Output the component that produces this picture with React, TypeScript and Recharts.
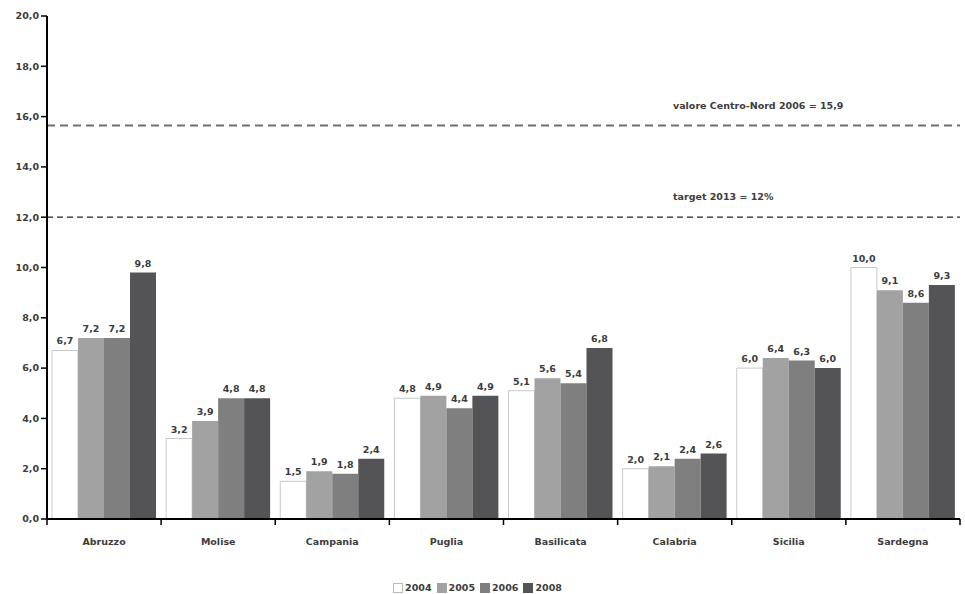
import React from 'react';
import {
  Bar,
  BarChart,
  LabelList,
  Legend,
  ReferenceLine,
  XAxis,
  YAxis,
} from 'recharts';

const regions = ['Abruzzo', 'Molise', 'Campania', 'Puglia', 'Basilicata', 'Calabria', 'Sicilia', 'Sardegna'];
const v2004 = [6.7, 3.2, 1.5, 4.8, 5.1, 2.0, 6.0, 10.0];
const v2005 = [7.2, 3.9, 1.9, 4.9, 5.6, 2.1, 6.4, 9.1];
const v2006 = [7.2, 4.8, 1.8, 4.4, 5.4, 2.4, 6.3, 8.6];
const v2008 = [9.8, 4.8, 2.4, 4.9, 6.8, 2.6, 6.0, 9.3];
const yTicks = [0, 2, 4, 6, 8, 10, 12, 14, 16, 18, 20];

const centroNordLine = 15.65;
const centroNordLabel = 'valore Centro-Nord 2006 = 15,9';
const targetLine = 12;
const targetLabel = 'target 2013 = 12%';

const data = regions.map((name, i) => ({
  name,
  y2004: v2004[i],
  y2005: v2005[i],
  y2006: v2006[i],
  y2008: v2008[i],
}));

const W = 965;
const H = 594;
const LEFT = 47;
const RIGHT = 5;
const BAND = (W - LEFT - RIGHT) / regions.length;
const FONT = '"DejaVu Sans", Verdana, sans-serif';
const TXT = '#3c3c3c';

const fmt = (v: any) => Number(v).toFixed(1).replace('.', ',');

const CategoryTick = (props: any) => {
  const { x, y, payload, index } = props;
  const left = x - BAND / 2;
  return (
    <g>
      <line x1={left} x2={left} y1={y - 8} y2={y - 2} stroke="#000" strokeWidth={1.5} />
      {index === regions.length - 1 && (
        <line x1={x + BAND / 2} x2={x + BAND / 2} y1={y - 8} y2={y - 2} stroke="#000" strokeWidth={1.5} />
      )}
      <text x={x} y={y + 18} textAnchor="middle" fontSize={9.5} fontWeight="bold" fill={TXT} fontFamily={FONT}>
        {payload.value}
      </text>
    </g>
  );
};

const lineLabel = (text: string, dy: number) => (props: any) => {
  const { viewBox } = props;
  return (
    <text x={viewBox.x + 626} y={viewBox.y - dy} fontSize={9.5} fontWeight="bold" fill={TXT} fontFamily={FONT}>
      {text}
    </text>
  );
};

const barLabel = {
  position: 'top' as const,
  offset: 6,
  fontSize: 9.5,
  fontWeight: 'bold',
  fill: TXT,
  fontFamily: FONT,
  formatter: fmt,
};

const LegendContent = (props: any) => {
  const { payload = [] } = props;
  return (
    <div style={{ display: 'flex', justifyContent: 'center', paddingTop: 10, fontFamily: FONT, fontSize: 9.5, fontWeight: 'bold', color: TXT }}>
      {payload.map((p: any) => (
        <span key={p.value} style={{ display: 'flex', alignItems: 'center', marginRight: 5 }}>
          <span
            style={{
              display: 'inline-block',
              width: 8,
              height: 8,
              background: p.payload?.fill ?? p.color,
              border: p.value === '2004' ? '1px solid #bbb' : '1px solid transparent',
              marginRight: 2,
            }}
          />
          {p.value}
        </span>
      ))}
    </div>
  );
};

export default function App() {
  return (
    <div style={{ position: 'absolute', left: 0, top: 0, width: W, height: H, background: '#fff' }}>
      <BarChart
        width={W}
        height={H}
        data={data}
        margin={{ top: 16, right: RIGHT, left: 0, bottom: 0 }}
        barCategoryGap={5}
        barGap={0}
      >
        <XAxis
          dataKey="name"
          tickLine={false}
          axisLine={{ stroke: '#000', strokeWidth: 2 }}
          tick={<CategoryTick />}
          interval={0}
          height={53}
        />
        <YAxis
          domain={[0, 20]}
          ticks={yTicks}
          tickFormatter={fmt}
          width={LEFT}
          axisLine={{ stroke: '#000', strokeWidth: 2 }}
          tickLine={{ stroke: '#000', strokeWidth: 1.5 }}
          tickSize={6}
          tick={{ fontSize: 9.5, fontWeight: 'bold', fill: TXT, fontFamily: FONT }}
        />
        <Legend verticalAlign="bottom" height={22} content={<LegendContent />} />
        <ReferenceLine
          y={centroNordLine}
          stroke="#6e6e6e"
          strokeWidth={2}
          strokeDasharray="8 5"
          label={lineLabel(centroNordLabel, 16)}
        />
        <ReferenceLine
          y={targetLine}
          stroke="#222"
          strokeWidth={1.3}
          strokeDasharray="6 4"
          label={lineLabel(targetLabel, 17)}
        />
        <Bar dataKey="y2004" name="2004" fill="#fff" stroke="#c8c8c8" strokeWidth={1} isAnimationActive={false}>
          <LabelList dataKey="y2004" {...barLabel} />
        </Bar>
        <Bar dataKey="y2005" name="2005" fill="#a2a2a2" isAnimationActive={false}>
          <LabelList dataKey="y2005" {...barLabel} />
        </Bar>
        <Bar dataKey="y2006" name="2006" fill="#7f7f7f" isAnimationActive={false}>
          <LabelList dataKey="y2006" {...barLabel} />
        </Bar>
        <Bar dataKey="y2008" name="2008" fill="#545457" isAnimationActive={false}>
          <LabelList dataKey="y2008" {...barLabel} />
        </Bar>
      </BarChart>
    </div>
  );
}
